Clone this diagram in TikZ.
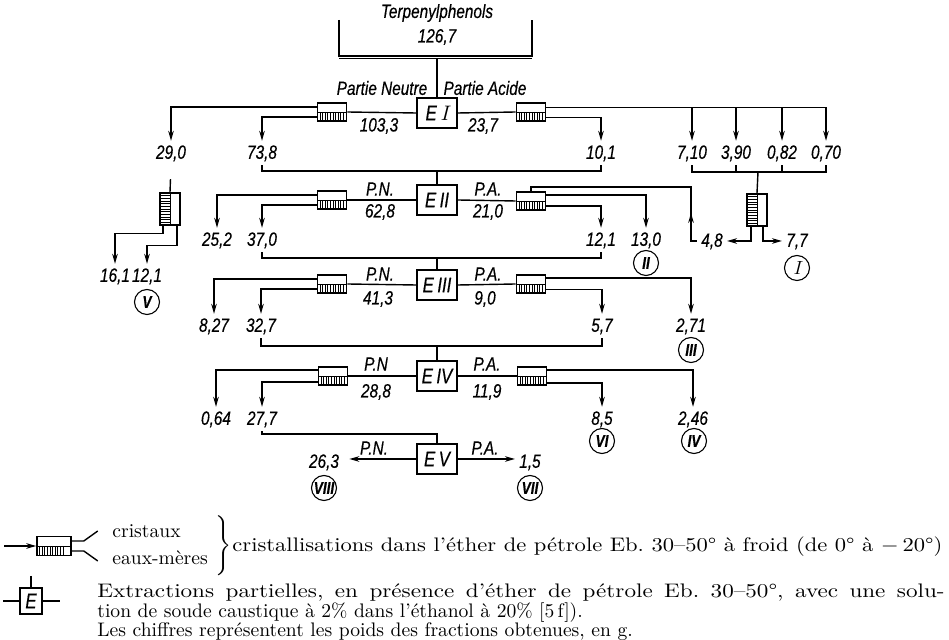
\documentclass[tikz,border=0pt]{standalone}
\usepackage{fontspec}
\usepackage{graphicx}
\usetikzlibrary{arrows.meta,calc,decorations.markings}
\newfontfamily\diagfont[FakeStretch=0.8,FakeBold=0.4]{Liberation Sans}
\newcommand{\diagtxt}{\diagfont\itshape\fontsize{9.6}{10}\selectfont}
\newcommand{\legtxt}[1]{{\frenchspacing\fontsize{9.8}{12}\selectfont #1}}
\newcommand{\legwide}[2]{{\frenchspacing\fontsize{9.8}{12}\selectfont\resizebox{#1}{\height}{#2}}}
\newcommand{\legjust}[2]{{\frenchspacing\fontsize{9.8}{12}\selectfont\scalebox{1.18}[1]{\makebox[#1][s]{#2}}}}
\begin{document}
\begin{tikzpicture}[x=0.5pt,y=-0.5pt,
  ln/.style={line width=0.7pt},
  arr/.style={line width=0.7pt,-{Stealth[length=5pt,width=2.8pt]}},
  num/.style={font=\diagtxt, inner sep=2pt, text height=6.8pt, text depth=1pt},
  lab/.style={font=\diagtxt, inner sep=1pt},
  ebox/.style={draw, line width=0.9pt, minimum width=20pt, minimum height=15pt, inner sep=0pt,
    font=\diagfont\itshape\fontsize{10.5}{11}\selectfont},
  crysH/.style={draw, line width=0.8pt, minimum width=14.5pt, minimum height=9pt, inner sep=0pt,
    path picture={
      \draw[line width=0.4pt] (path picture bounding box.west) -- (path picture bounding box.east);
      \foreach \k in {1,...,10}{
        \draw[line width=0.45pt] ([xshift=\k*1.3pt]path picture bounding box.south west) -- ([xshift=\k*1.3pt]path picture bounding box.west);
      }}},
  crysV/.style={draw, line width=0.8pt, minimum width=10pt, minimum height=16pt, inner sep=0pt,
    path picture={
      \draw[line width=0.4pt] (path picture bounding box.north) -- (path picture bounding box.south);
      \foreach \k in {1,...,11}{
        \draw[line width=0.45pt] ([yshift=\k*1.33pt]path picture bounding box.south west) -- ([yshift=\k*1.33pt]path picture bounding box.south);
      }}},
  roman/.style={circle, draw, line width=0.55pt, minimum size=12.5pt, inner sep=0pt,
    font=\diagfont\itshape\bfseries\fontsize{8.5}{9}\selectfont},
  legline/.style={anchor=west, inner sep=0pt}
]
\useasboundingbox (0,0) rectangle (949,640);

% ---------- top ----------
\node[lab] (tt) at (437,13) {Terpenylphenols};
\node[lab] (tv) at (437,37) {126,7};
\draw[ln] (339,20) -- (339,56) -- (532,56) -- (532,20);
\draw[line width=0.5pt] (339,59) -- (532,59);
\coordinate (tb) at (437,59);

% ---------- E boxes ----------
\node[ebox] (E1) at (437,113) {E\,{\rmfamily\itshape I}};
\node[ebox] (E2) at (437,200) {E\,II};
\node[ebox] (E3) at (437,285) {E\,III};
\node[ebox] (E4) at (437,376) {E\,IV};
\node[ebox] (E5) at (437,459) {E\,V};
\draw[ln] (tb) -- (E1.north);

% ---------- crystallisation boxes ----------
\node[crysH] (C1L) at (332,112) {};
\node[crysH] (C1R) at (531,112) {};
\node[crysH] (C2L) at (332,200) {};
\node[crysH] (C2R) at (531,201) {};
\node[crysH] (C3L) at (332,284) {};
\node[crysH] (C3R) at (531,284) {};
\node[crysH] (C4L) at (333,376) {};
\node[crysH] (C4R) at (532,376) {};
\node[crysV] (CV1) at (757,210) {};
\node[crysV] (CV2) at (170,209) {};

% ---------- E1 row ----------
\node[lab] (pn1) at (382,88) {Partie Neutre};
\node[lab] (pa1) at (485,88) {Partie Acide};
\node[lab] (v1033) at (379,126) {103,3};
\node[lab] (v237) at (483,126) {23,7};
\draw[ln] (E1.west) -- (C1L.east);
\draw[ln] (E1.east) -- (C1R.west);

\node[num] (n290) at (171,153) {29,0};
\node[num] (n738) at (262,153) {73,8};
\node[num] (n101) at (601,153) {10,1};
\node[num] (n710) at (692,153) {7,10};
\node[num] (n390) at (736,153) {3,90};
\node[num] (n082) at (782,153) {0,82};
\node[num] (n070) at (826,153) {0,70};

\draw[arr] ([yshift=2.5pt]C1L.west) -| (n290);
\draw[arr] ([yshift=-2.5pt]C1L.west) -| (n738);
\coordinate (t1) at ([yshift=2.2pt]C1R.east);
\draw[arr] (t1) -| (n070);
\draw[arr] (t1 -| n710) -- (n710);
\draw[arr] (t1 -| n390) -- (n390);
\draw[arr] (t1 -| n082) -- (n082);
\draw[arr] ([yshift=-2.8pt]C1R.east) -| (n101);

% bracket 73,8 -- 10,1 to E2
\coordinate (j2) at (437,171);
\draw[ln] (n738.south) |- (j2) -| (n101.south);
\draw[ln] (j2) -- (E2.north);

% bracket under 7,10 ... 0,70
\coordinate (j7) at (758,172);
\draw[ln] (n710.south) |- (j7) -| (n070.south);
\draw[ln] (n390.south) -- (n390.south |- j7);
\draw[ln] (n082.south) -- (n082.south |- j7);
\draw[ln] (j7) -- (CV1.north);

% vertical crys box right
\node[num] (n48) at (712,241) {4,8};
\node[num] (n77) at (797,241) {7,7};
\node[roman, font=\rmfamily\itshape\fontsize{9.5}{10}\selectfont] (r1) at (797,268) {I};
\draw[arr] ([xshift=-3pt]CV1.south) |- (n48.east);
\draw[arr] ([xshift=3pt]CV1.south) |- (n77.west);
\coordinate (k1) at (691,187);
\draw[ln, postaction={decorate}, decoration={markings, mark=at position 17pt with {\arrow{Stealth[length=5pt,width=2.8pt]}}}]
  (n48.west) -| (k1) -| (C2R.north);

% vertical crys box left (29,0)
\draw[ln, shorten <=7pt] (n290.south) -- (CV2.north);
\node[num] (n161) at (115,276) {16,1};
\node[num] (n121a) at (147,276) {12,1};
\node[roman] (r5) at (147,302) {V};
\draw[arr] ([xshift=-3.5pt]CV2.south) -- ++(0,8) -| (n161);
\draw[arr] ([xshift=3.5pt]CV2.south) -- ++(0,20) -| (n121a);

% ---------- E2 row ----------
\node[lab] (pn2) at (380,189) {P.N.};
\node[lab] (v628) at (380,212) {62,8};
\node[lab] (pa2) at (488,189) {P.A.};
\node[lab] (v210) at (488,212) {21,0};
\draw[ln] (E2.west) -- (C2L.east);
\draw[ln] (E2.east) -- (C2R.west);
\node[num] (n252) at (217,240) {25,2};
\node[num] (n370) at (262,240) {37,0};
\node[num] (n121b) at (601,240) {12,1};
\node[num] (n130) at (646,240) {13,0};
\node[roman] (r2) at (646,263) {II};
\draw[arr] ([yshift=2.5pt]C2L.west) -| (n252);
\draw[arr] ([yshift=-2.5pt]C2L.west) -| (n370);
\draw[arr] ([yshift=3pt]C2R.east) -| (n130);
\draw[arr] ([yshift=-2.5pt]C2R.east) -| (n121b);
\coordinate (j3) at (437,258);
\draw[ln] (n370.south) |- (j3) -| (n121b.south);
\draw[ln] (j3) -- (E3.north);

% ---------- E3 row ----------
\node[lab] (pn3) at (380,274) {P.N.};
\node[lab] (v413) at (378,299) {41,3};
\node[lab] (pa3) at (488,274) {P.A.};
\node[lab] (v90) at (485,299) {9,0};
\draw[ln] (E3.west) -- (C3L.east);
\draw[ln] (E3.east) -- (C3R.west);
\node[num] (n827) at (214,326) {8,27};
\node[num] (n327) at (261,326) {32,7};
\node[num] (n57) at (602,326) {5,7};
\node[num] (n271) at (691,326) {2,71};
\node[roman] (r3) at (691,350) {III};
\draw[arr] ([yshift=2.5pt]C3L.west) -| (n827);
\draw[arr] ([yshift=-2.5pt]C3L.west) -| (n327);
\draw[arr] ([yshift=3pt]C3R.east) -| (n271);
\draw[arr] ([yshift=-2.8pt]C3R.east) -| (n57);
\coordinate (j4) at (437,346);
\draw[ln] (n327.south) |- (j4) -| (n57.south);
\draw[ln] (j4) -- (E4.north);

% ---------- E4 row ----------
\node[lab] (pn4) at (376,364) {P.N};
\node[lab] (v288) at (376,392) {28,8};
\node[lab] (pa4) at (487,364) {P.A.};
\node[lab] (v119) at (487,392) {11,9};
\draw[ln] (E4.west) -- (C4L.east);
\draw[ln] (E4.east) -- (C4R.west);
\node[num] (n064) at (216,419) {0,64};
\node[num] (n277) at (262,419) {27,7};
\node[num] (n85) at (602,419) {8,5};
\node[num] (n246) at (693,419) {2,46};
\node[roman] (r6) at (602,441) {VI};
\node[roman] (r4) at (694,441) {IV};
\draw[arr] ([yshift=3pt]C4L.west) -| (n064);
\draw[arr] ([yshift=-3pt]C4L.west) -| (n277);
\draw[arr] ([yshift=3pt]C4R.east) -| (n246);
\draw[arr] ([yshift=-3.5pt]C4R.east) -| (n85);
\coordinate (j5) at (437,434);
\draw[ln] (n277.south) |- (j5) -- (E5.north);

% ---------- E5 row ----------
\node[lab] (pn5) at (374,448) {P.N.};
\node[lab] (pa5) at (485,448) {P.A.};
\node[num] (n263) at (324,462) {26,3};
\node[num] (n15) at (530,462) {1,5};
\node[roman] (r8) at (324,488) {VIII};
\node[roman] (r7) at (530,488) {VII};
\draw[arr, shorten >=3pt] (E5.west) -- (E5.west -| n263.east);
\draw[arr] (E5.east) -- (E5.east -| n15.west);

% ---------- legend ----------
\node[crysH, minimum width=17pt, minimum height=9.5pt] (LC) at (54,546) {};
\coordinate (la) at (4,546);
\draw[arr] (la) -- (LC.west);
\draw[ln] ([yshift=2.5pt]LC.east) -- ++(12,0) -- ++(14,-10);
\draw[ln] ([yshift=-2.5pt]LC.east) -- ++(12,0) -- ++(14,10);
\node[legline] (lcr) at (112,531) {\legtxt{cristaux}};
\node[legline] (lem) at (112,558) {\legtxt{eaux-mères}};
\node[inner sep=0pt] (lbr) at (222,546) {$\left.\rule[-12.5pt]{0pt}{25pt}\right\}$};
\node[legline] (lt1) at (232,547) {\legwide{355pt}{cristallisations dans l'éther de pétrole Eb. 30–50° à froid (de 0° à $-$\,20°)}};

\node[ebox, minimum width=11pt, minimum height=13pt] (LE) at (31,601) {E};
\coordinate (le1) at (31,576);
\coordinate (le2) at (3,601);
\coordinate (le3) at (60,601);
\draw[ln] (le1) -- (LE.north);
\draw[ln] (le2) -- (LE.west);
\draw[ln] (LE.east) -- (le3);
\node[legline] (lt2) at (97,593) {\legjust{359pt}{Extractions partielles, en présence d'éther de pétrole Eb. 30–50°, avec une solu-}};
\node[legline] (lt3) at (97,613) {\legtxt{tion de soude caustique à 2\% dans l'éthanol à 20\% [5\,f]).}};
\node[legline] (lt4) at (97,632) {\legtxt{Les chiffres représentent les poids des fractions obtenues, en g.}};
\end{tikzpicture}
\end{document}
